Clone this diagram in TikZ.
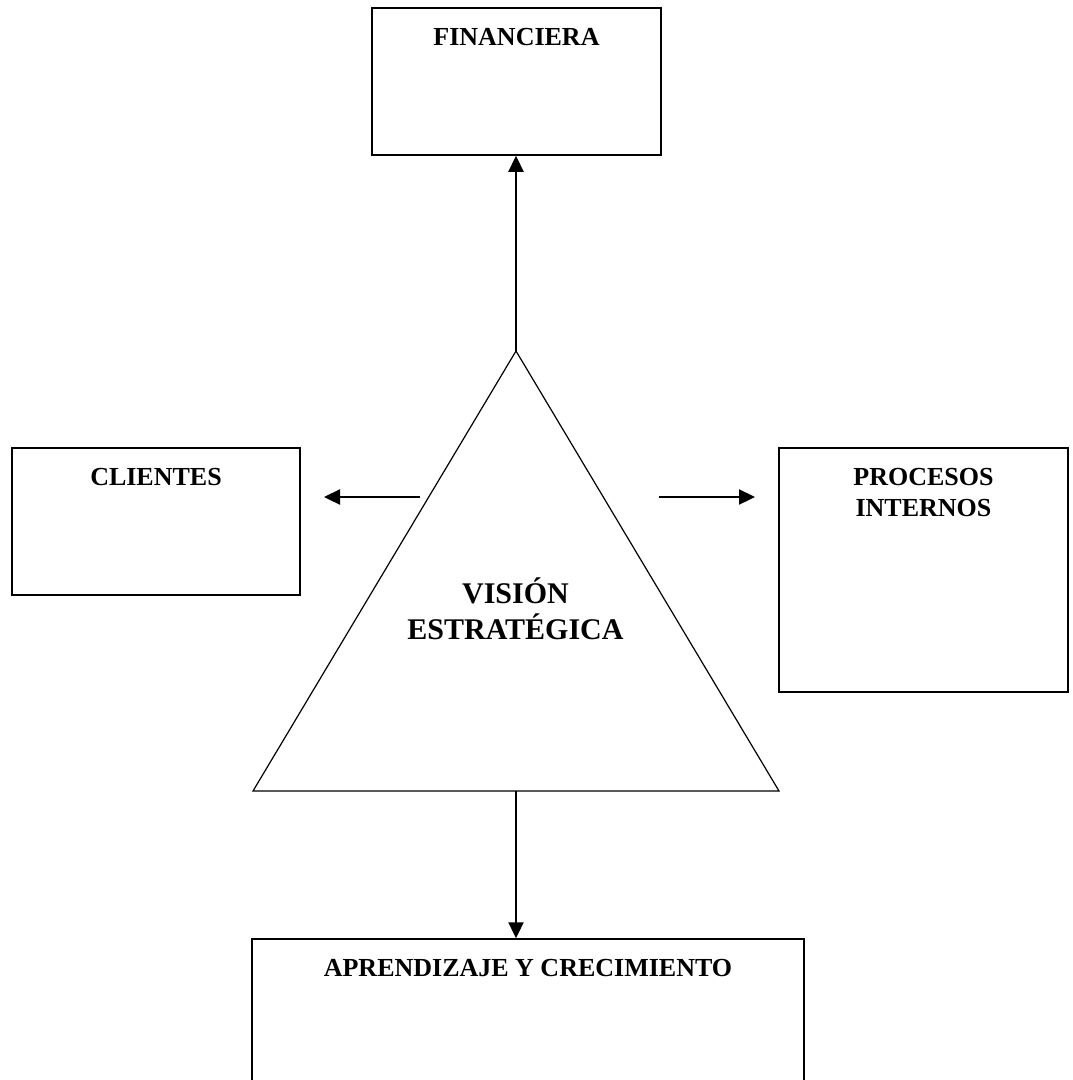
\documentclass[tikz,border=0pt]{standalone}
\usepackage{fontspec}
\setmainfont{Liberation Serif}
\usetikzlibrary{arrows.meta}

\begin{document}
\begin{tikzpicture}[x=1pt, y=-1pt,
        bloque/.style={shape=rectangle, draw, line width=1.5pt, inner sep=0pt},
        titulo/.style={anchor=north, inner sep=0pt, yshift=-21pt, align=center, font=\bfseries\fontsize{26}{31}\selectfont},
        vision/.style={anchor=base, inner sep=0pt, font=\bfseries\fontsize{30}{36}\selectfont},
        flecha/.style={line width=2.3pt, -{Triangle[length=16pt, width=15pt]}}]
        % Boxes, triangle and arrows:
        \useasboundingbox (0, 0) rectangle (1072, 1080);
        \clip (0, 0) rectangle (1072, 1080);
        \node[bloque, minimum width=289pt, minimum height=147pt](Fin) at (516.5, 81.5){} node[titulo] at (Fin.north){FINANCIERA};
        \node[bloque, minimum width=288pt, minimum height=147pt](Cli) at (156, 521.5){} node[titulo] at (Cli.north){CLIENTES};
        \node[bloque, minimum width=289pt, minimum height=244pt](Pro) at (923.5, 570){} node[titulo] at (Pro.north){PROCESOS\\INTERNOS};
        \node[bloque, minimum width=552pt, minimum height=181pt](Apr) at (528, 1029.5){} node[titulo] at (Apr.north){APRENDIZAJE Y CRECIMIENTO};
        \coordinate (Top) at (516, 351);
        \coordinate (BaseL) at (253, 791);
        \coordinate (BaseR) at (779, 791);
        \coordinate (BaseM) at (516, 791);
        \draw[line width=1.2pt] (Top) -- (BaseL) -- (BaseR) -- cycle;
        \node[vision](Vis1) at (515.5, 603){VISIÓN};
        \node[vision](Vis2) at (515.5, 639){ESTRATÉGICA};
        \coordinate (IzqA) at (420, 497);
        \coordinate (IzqB) at (324, 497);
        \coordinate (DerA) at (659, 497);
        \coordinate (DerB) at (755, 497);
        \draw[flecha] (Top) -- (Top |- Fin.south);
        \draw[flecha] (BaseM) -- (BaseM |- Apr.north);
        \draw[flecha] (IzqA) -- (IzqB);
        \draw[flecha] (DerA) -- (DerB);
    \end{tikzpicture}
\end{document}
